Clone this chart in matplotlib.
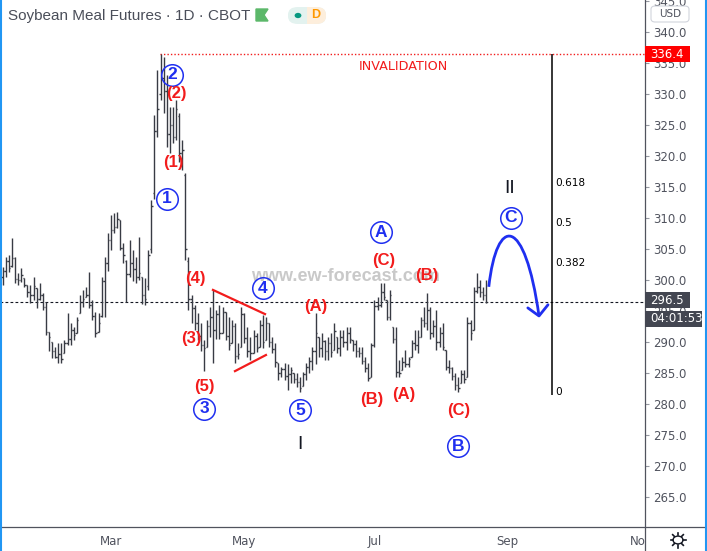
import matplotlib
matplotlib.use('Agg')
import matplotlib.pyplot as plt
import numpy as np
import pandas as pd
from matplotlib.patches import Rectangle, FancyBboxPatch, Circle, Polygon, PathPatch
from matplotlib.path import Path
from matplotlib.lines import Line2D
from matplotlib.transforms import Bbox

W, H = 707, 551

# Daily OHLC bars (first bar 2020-01-08)
opens = [302.0, 300.5, 301.5, 303.0, 302.2, 303.5, 300.2, 300.0, 300.3, 299.2,
         298.0, 297.5, 298.7, 297.0, 297.5, 295.6, 291.6, 290.0, 288.5, 287.6,
         288.0, 288.2, 289.8, 290.5, 292.0, 291.5, 294.7, 296.4, 297.3, 297.5,
         296.0, 294.2, 291.6, 294.2, 299.8, 302.8, 306.5, 308.0, 308.6, 309.7,
         305.2, 303.0, 301.0, 302.8, 301.8, 300.5, 300.5, 297.6, 299.0, 305.0,
         314.0, 324.0, 330.0, 332.5, 330.5, 323.5, 325.0, 323.0, 326.5, 320.5,
         317.0, 303.0, 297.0, 295.5, 293.0, 291.0, 289.5, 289.2, 292.6, 294.0,
         292.0, 294.5, 291.5, 294.8, 291.0, 289.8, 292.5, 287.8, 289.2, 294.5,
         290.6, 288.6, 288.2, 291.0, 289.2, 292.8, 290.3, 293.0, 290.0, 288.8,
         286.6, 285.0, 285.6, 284.5, 284.8, 285.0, 284.0, 283.5, 282.9, 284.8,
         286.0, 287.0, 288.5, 290.8, 289.0, 290.2, 288.5, 289.8, 288.7, 290.8,
         289.0, 290.8, 290.0, 291.5, 290.3, 289.6, 288.6, 288.2, 287.0, 285.8,
         284.4, 289.5, 295.8, 296.0, 298.0, 296.8, 294.0, 292.4, 290.5, 285.2,
         285.5, 286.8, 286.5, 287.6, 289.8, 289.5, 290.8, 293.5, 293.0, 295.2,
         291.5, 292.5, 290.0, 291.5, 288.7, 286.0, 285.8, 284.5, 283.0, 283.4,
         284.8, 284.4, 293.0, 291.9, 298.2, 298.8, 298.0, 297.5]
highs = [302.9, 302.1, 303.7, 304.0, 306.8, 303.7, 301.1, 301.9, 300.3, 299.2,
         299.2, 300.5, 298.7, 299.5, 297.9, 296.5, 291.6, 290.0, 289.2, 289.8,
         289.8, 290.3, 294.7, 293.1, 292.4, 294.0, 297.6, 298.4, 298.9, 301.3,
         296.8, 294.8, 294.7, 300.5, 303.7, 307.6, 310.5, 310.8, 311.0, 309.7,
         306.0, 303.2, 306.5, 304.8, 303.7, 306.9, 300.5, 300.3, 304.8, 312.9,
         326.6, 333.9, 336.4, 336.0, 333.0, 327.9, 327.9, 329.0, 326.9, 322.6,
         317.3, 303.7, 297.6, 296.0, 294.7, 293.1, 290.3, 293.5, 295.6, 298.4,
         295.2, 296.0, 295.6, 294.8, 294.0, 293.5, 293.1, 289.8, 295.6, 294.7,
         292.4, 290.8, 291.9, 291.5, 293.5, 294.4, 294.0, 293.1, 290.8, 289.8,
         286.6, 286.0, 286.6, 286.5, 286.0, 285.0, 285.0, 284.4, 285.2, 286.6,
         287.6, 289.2, 294.7, 290.8, 291.5, 290.3, 290.8, 291.5, 293.1, 290.8,
         291.9, 291.9, 292.4, 292.4, 290.3, 290.3, 289.2, 289.2, 287.6, 286.6,
         289.8, 296.8, 297.3, 299.5, 299.5, 296.8, 298.4, 292.4, 292.4, 287.1,
         287.6, 288.7, 287.6, 290.3, 291.9, 291.9, 294.0, 295.6, 297.9, 295.6,
         293.5, 295.2, 292.4, 293.1, 288.7, 287.1, 286.0, 285.0, 284.4, 285.5,
         285.5, 294.0, 293.5, 298.9, 301.1, 300.0, 298.9, 300.0]
lows = [299.5, 299.2, 300.5, 301.3, 302.1, 299.5, 299.2, 299.7, 298.9, 297.3,
        296.3, 296.8, 295.5, 296.8, 295.2, 291.1, 288.5, 287.4, 287.4, 286.6,
        286.6, 288.2, 289.5, 289.5, 290.3, 291.5, 294.7, 295.6, 297.3, 295.5,
        293.5, 290.8, 291.6, 294.0, 294.0, 301.5, 304.8, 307.6, 308.4, 304.8,
        302.7, 296.5, 300.5, 299.8, 299.5, 300.0, 296.2, 296.0, 298.4, 304.4,
        313.0, 323.0, 329.0, 326.9, 321.5, 320.5, 322.1, 322.6, 319.0, 317.7,
        303.2, 295.2, 293.1, 291.9, 290.3, 288.5, 285.3, 289.2, 290.8, 286.6,
        290.5, 290.5, 291.5, 290.3, 288.7, 289.8, 286.6, 287.2, 289.2, 289.8,
        287.6, 287.1, 288.2, 288.4, 289.2, 289.0, 290.3, 289.2, 288.2, 286.0,
        283.9, 284.4, 283.9, 282.3, 283.4, 283.4, 282.7, 281.9, 282.9, 283.9,
        285.0, 285.5, 286.5, 287.6, 287.6, 287.1, 287.1, 287.6, 288.7, 288.2,
        287.8, 289.2, 288.7, 289.8, 288.5, 287.6, 287.6, 286.4, 285.2, 283.7,
        284.4, 289.2, 295.2, 295.6, 296.8, 293.5, 293.5, 289.8, 284.4, 284.4,
        285.5, 286.0, 286.0, 287.6, 288.7, 288.2, 290.8, 292.4, 291.9, 290.5,
        290.8, 288.7, 289.2, 288.7, 285.5, 285.0, 283.9, 282.3, 281.9, 283.4,
        283.4, 284.4, 290.3, 291.9, 297.9, 297.3, 296.8, 296.3]
closes = [300.5, 301.5, 303.0, 302.0, 303.5, 300.2, 300.0, 300.8, 299.2, 298.0,
          297.5, 299.0, 297.0, 297.5, 295.6, 291.6, 290.8, 288.5, 287.6, 288.0,
          287.2, 289.8, 290.5, 292.0, 291.2, 293.6, 296.4, 297.0, 297.5, 296.0,
          294.2, 291.5, 293.0, 299.8, 302.8, 306.5, 308.0, 308.6, 309.8, 305.2,
          304.0, 301.0, 302.8, 301.8, 300.5, 301.2, 297.6, 297.0, 304.0, 312.0,
          324.0, 327.5, 332.5, 330.5, 323.5, 325.0, 323.0, 327.5, 320.5, 321.0,
          305.0, 297.0, 295.5, 293.0, 291.0, 289.5, 289.0, 292.6, 294.0, 292.0,
          294.5, 291.5, 294.8, 291.0, 289.5, 292.5, 287.8, 288.0, 294.5, 290.6,
          288.6, 288.2, 291.0, 289.0, 292.8, 290.0, 293.0, 290.0, 288.8, 286.8,
          285.0, 285.6, 284.5, 284.8, 285.5, 284.0, 283.5, 282.5, 284.8, 286.0,
          287.0, 288.5, 291.5, 289.0, 290.2, 288.5, 289.8, 288.4, 291.8, 289.0,
          290.8, 290.0, 291.5, 290.5, 289.6, 288.6, 288.2, 287.0, 285.8, 284.2,
          289.5, 295.8, 296.0, 298.0, 297.2, 294.0, 297.6, 290.5, 285.2, 285.0,
          286.8, 286.5, 287.2, 289.8, 289.5, 290.8, 293.5, 293.0, 295.2, 291.5,
          292.5, 290.0, 291.5, 289.2, 286.0, 285.8, 284.5, 283.0, 282.5, 284.8,
          284.0, 293.0, 291.5, 298.2, 298.8, 298.0, 297.5, 296.5]

holidays = ['2020-01-20', '2020-02-17', '2020-04-10', '2020-05-25',
            '2020-07-03', '2020-09-07', '2020-11-26', '2020-12-25']
month_nums = [3, 5, 7, 9, 11]
month_names = ['Mar', 'May', 'Jul', 'Sep', 'Nov']

last_price = 296.5
invalidation = 336.4
fib_low = 281.9
fib_ratios = [0.618, 0.5, 0.382, 0]

# wave labels (bar index, price)
blue_text = ['1', '2', '3', '4', '5', 'A', 'B', 'C']
blue_x = [54.1, 55.7, 66.0, 85.0, 97.0, 123.1, 147.9, 165.0]
blue_y = [313.1, 333.1, 279.2, 298.7, 279.0, 307.7, 273.2, 310.0]
red_text = ['(2)', '(1)', '(4)', '(3)', '(5)', '(A)', '(C)', '(B)', '(B)', '(A)', '(C)']
red_x = [57.0, 56.0, 63.1, 61.8, 66.0, 102.1, 124.1, 138.0, 120.2, 130.5, 148.3]
red_y = [330.0, 318.9, 300.3, 290.5, 282.9, 295.8, 303.1, 300.8, 280.8, 281.6, 278.9]

BAR = '#383b44'
BLUE = '#1f2ff0'
RED = '#f21c1c'
GREY = '#50535e'
DARK = '#434651'
LAB_FONT = 'Liberation Sans'


def fx(x):
    return x / W


def fy(y):
    return 1 - y / H


fig = plt.figure(figsize=(W / 100, H / 100), dpi=100)
ax = fig.add_axes([0, fy(527), fx(645), 527 / H])
ax.set_xlim(0.19, 208.3)
ax.set_ylim(260.16, 345.16)
for s in ax.spines.values():
    s.set_visible(False)

x = np.arange(len(closes))
ax.vlines(x, lows, highs, color=BAR, lw=1.0, zorder=2)
ax.hlines(opens, x - 0.45, x, color=BAR, lw=1.0, zorder=2)
ax.hlines(closes, x, x + 0.45, color=BAR, lw=1.0, zorder=2)

# price axis
ax.yaxis.tick_right()
ax.set_yticks(np.arange(265, 346, 5))
ax.set_yticklabels([f'{v:.1f}' for v in np.arange(265, 346, 5)])
ax.tick_params(axis='y', length=3, width=0.8, color='#9598a1', pad=3,
               labelsize=8.5, labelcolor=GREY)
ax.set_xticks([])

# last price and invalidation lines
ax.axhline(last_price, color='#131722', lw=0.8, ls=(0, (2.5, 2)), zorder=1)
ax.hlines(invalidation, 51.8, 208.3, color=RED, lw=1.0, ls=(0, (1, 1.5)), zorder=1)
ax.text(130.2, 334.5, 'INVALIDATION', color=RED, fontsize=9.2, ha='center', va='center')

# watermark
ax.text(111.8, 300.6, 'www.ew-forecast.com', color='#c9c9c9', fontsize=13,
        family=LAB_FONT, fontweight='bold', ha='center', va='center', zorder=1)

# triangle
ax.plot([68.9, 85.7], [298.4, 294.5], color=RED, lw=1.6, zorder=3)
ax.plot([76.0, 86.0], [285.3, 287.9], color=RED, lw=1.6, zorder=3)

# fib retracement
fib_x = 178.4
ax.vlines(fib_x, fib_low - 0.4, invalidation, color='black', lw=1.1, zorder=3)
for r in fib_ratios:
    lvl = fib_low + r * (invalidation - fib_low)
    ax.text(fib_x + 0.8, lvl, f'{r:g}', fontsize=7.6, color='black', ha='left', va='center')

# wave labels
ax.plot(blue_x, blue_y, 'o', ms=15.5, mfc='none', mec=BLUE, mew=1.1, ls='none', zorder=4)
for t, bx, by in zip(blue_text, blue_x, blue_y):
    ax.text(bx, by, t, color=BLUE, fontsize=12.5, family=LAB_FONT, fontweight='bold',
            ha='center', va='center', zorder=5)
for t, rx, ry in zip(red_text, red_x, red_y):
    ax.text(rx, ry, t, color=RED, fontsize=12, family=LAB_FONT, fontweight='bold',
            ha='center', va='center', zorder=5)
ax.text(97.0, 273.4, 'I', color='#131722', fontsize=14, family=LAB_FONT,
        ha='center', va='center')
ax.text(164.7, 314.7, 'II', color='#131722', fontsize=14, family=LAB_FONT,
        ha='center', va='center')

# projected path
verts = [(157.9, 298.9), (160.5, 310.5), (169.5, 310.5), (174.1, 294.2)]
path = Path(verts, [Path.MOVETO, Path.CURVE4, Path.CURVE4, Path.CURVE4])
ax.add_patch(PathPatch(path, facecolor='none', edgecolor=BLUE, lw=2.0, zorder=4))
ax.plot([170.5, 174.1, 177.0], [295.5, 294.2, 296.0], color=BLUE, lw=2.0,
        solid_capstyle='round', zorder=4)

# time axis labels
dates = pd.bdate_range('2020-01-08', '2020-12-31', freq='C', holidays=holidays)
clip = Bbox.from_extents(0, 0, 645, H)
for m, name in zip(month_nums, month_names):
    pos = int(np.argmax(dates.month == m))
    t = ax.text(pos, -0.027, name, transform=ax.get_xaxis_transform(), fontsize=8.5,
                color=GREY, ha='center', va='center')
    t.set_clip_box(clip)
    t.set_clip_on(True)

# frame lines
fig.add_artist(Line2D([fx(645), fx(645)], [0, 1], color='#50535e', lw=0.9))
fig.add_artist(Line2D([0, 1], [fy(527), fy(527)], color='#50535e', lw=0.9))
fig.add_artist(Line2D([fx(1), fx(1)], [0, 1], color='#2196f3', lw=1.5))
fig.add_artist(Line2D([fx(706), fx(706)], [0, 1], color='#2196f3', lw=1.5))

# header
fig.text(fx(8), fy(16), 'Soybean Meal Futures · 1D · CBOT', fontsize=11,
         family=LAB_FONT, color='#4a4e59', ha='left', va='center')
fig.add_artist(Polygon([(fx(256), fy(9)), (fx(268), fy(9)), (fx(264), fy(15)),
                        (fx(268), fy(21)), (fx(256), fy(21))],
                       closed=True, color='#5cb86a', transform=fig.transFigure))
fig.add_artist(FancyBboxPatch((fx(288), fy(24)), fx(38), 17 / H,
                              boxstyle='round,pad=0,rounding_size=0.014',
                              fc='#e3f2ef', ec='none', transform=fig.transFigure))
fig.add_artist(FancyBboxPatch((fx(307), fy(24)), fx(19), 17 / H,
                              boxstyle='round,pad=0,rounding_size=0.014',
                              fc='#fdeedc', ec='none', transform=fig.transFigure))
fig.add_artist(Rectangle((fx(307), fy(24)), fx(7), 17 / H, fc='#fdeedc', ec='none',
                         transform=fig.transFigure))
fig.add_artist(Circle((fx(298), fy(15.5)), 3.4 / W, fc='#089981', ec='none',
                      transform=fig.transFigure))
fig.text(fx(316), fy(15.5), 'D', fontsize=9, color='#ff9800', fontweight='bold',
         family=LAB_FONT, ha='center', va='center')

# price axis badges
fig.add_artist(FancyBboxPatch((fx(651), fy(22)), fx(38), 16 / H,
                              boxstyle='round,pad=0,rounding_size=0.006',
                              fc='white', ec='#d1d4dc', lw=0.8, transform=fig.transFigure))
fig.text(fx(670), fy(14), 'USD', fontsize=7.5, color=GREY, ha='center', va='center')


def badge(x0, x1, yc, text, color):
    fig.add_artist(Rectangle((fx(x0), fy(yc + 8)), fx(x1 - x0), 16 / H, fc=color,
                             ec='none', transform=fig.transFigure, zorder=5))
    fig.text(fx(x0 + 5), fy(yc), text, fontsize=8.5, color='white', ha='left',
             va='center', zorder=6)


badge(645, 690, 54, f'{invalidation:.1f}', '#ff0000')
badge(645, 690, 300, f'{last_price:.1f}', DARK)
badge(645, 702, 319, '04:01:53', DARK)

# settings gear
gx, gy = 678, 540
fig.add_artist(Circle((fx(gx), fy(gy)), 5 / W, fc='none', ec='#131722', lw=1.0,
                      transform=fig.transFigure))
for a in np.deg2rad(np.arange(0, 360, 45)):
    fig.add_artist(Line2D([fx(gx + 5 * np.cos(a)), fx(gx + 7.5 * np.cos(a))],
                          [fy(gy + 5 * np.sin(a)), fy(gy + 7.5 * np.sin(a))],
                          color='#131722', lw=1.2))

fig.savefig('out.png', dpi=100)
